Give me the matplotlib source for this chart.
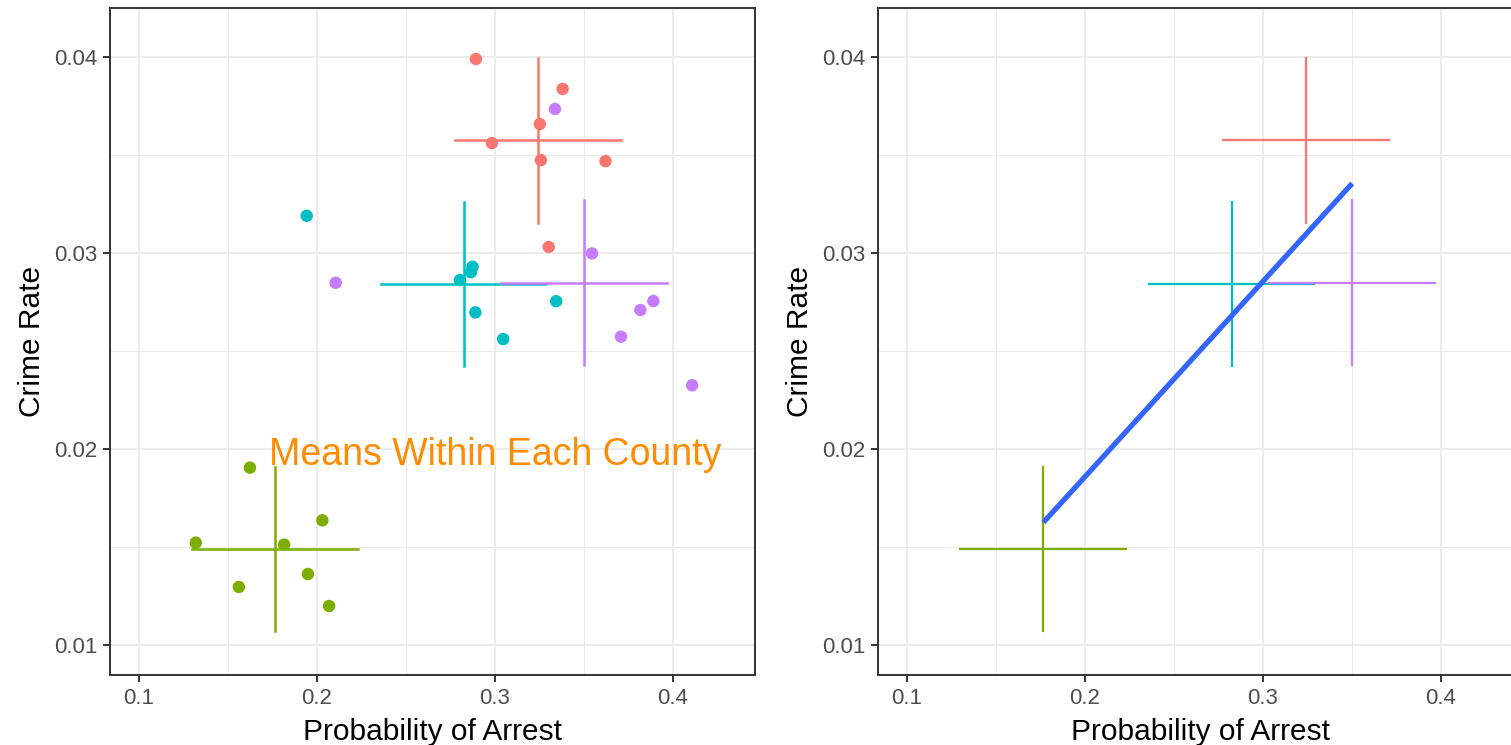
import matplotlib
matplotlib.use('Agg')
import matplotlib.pyplot as plt
import numpy as np

plt.rcParams['font.family'] = ['Liberation Sans', 'DejaVu Sans']

# probability of arrest / crime rate, seven years per county
county_colors = ['#F8766D', '#7CAE00', '#00BFC4', '#C77CFF']

prbarr_1 = [0.2893, 0.3380, 0.3252, 0.2983, 0.3258, 0.3621, 0.3302]
crmrte_1 = [0.03990, 0.03837, 0.03658, 0.03561, 0.03474, 0.03469, 0.03031]

prbarr_2 = [0.1623, 0.2030, 0.1319, 0.1815, 0.1949, 0.1561, 0.2068]
crmrte_2 = [0.01905, 0.01636, 0.01522, 0.01512, 0.01362, 0.01296, 0.01199]

prbarr_3 = [0.1942, 0.2874, 0.2865, 0.2803, 0.3344, 0.2890, 0.3046]
crmrte_3 = [0.03190, 0.02930, 0.02902, 0.02862, 0.02754, 0.02697, 0.02561]

prbarr_4 = [0.3337, 0.3545, 0.2105, 0.3890, 0.3817, 0.3708, 0.4108]
crmrte_4 = [0.03735, 0.02998, 0.02848, 0.02755, 0.02709, 0.02573, 0.02325]

xs = [prbarr_1, prbarr_2, prbarr_3, prbarr_4]
ys = [crmrte_1, crmrte_2, crmrte_3, crmrte_4]

# half lengths of the crosshair arms
arm_x = 0.0466
arm_y = 0.0042

x_ticks = [0.1, 0.2, 0.3, 0.4]
x_labels = ['0.1', '0.2', '0.3', '0.4']
y_ticks = [0.01, 0.02, 0.03, 0.04]
y_labels = ['0.01', '0.02', '0.03', '0.04']

mean_x = np.array([np.mean(v) for v in xs])
mean_y = np.array([np.mean(v) for v in ys])

W, H = 1511, 745
fig = plt.figure(figsize=(W / 100, H / 100), dpi=100)


def add_panel(x0, x1, y0, y1):
    return fig.add_axes([x0 / W, 1 - y1 / H, (x1 - x0) / W, (y1 - y0) / H])


def style(ax):
    ax.set_xlim(0.0837, 0.4461)
    ax.set_ylim(0.008469, 0.0425)
    ax.set_xticks(x_ticks)
    ax.set_xticklabels(x_labels)
    ax.set_yticks(y_ticks)
    ax.set_yticklabels(y_labels)
    ax.set_xticks([0.15, 0.25, 0.35], minor=True)
    ax.set_yticks([0.015, 0.025, 0.035], minor=True)
    ax.grid(True, which='major', color='#EBEBEB', lw=1.3)
    ax.grid(True, which='minor', color='#EBEBEB', lw=0.7)
    ax.set_axisbelow(True)
    for s in ax.spines.values():
        s.set_color('#333333')
        s.set_linewidth(1.4)
    ax.tick_params(which='major', length=5, width=1.4, color='#333333',
                   labelsize=16, labelcolor='#4D4D4D', pad=4)
    ax.tick_params(which='minor', length=0)
    ax.set_xlabel('Probability of Arrest', fontsize=21.5, color='black')
    ax.set_ylabel('Crime Rate', fontsize=21.5, color='black')
    ax.xaxis.set_label_coords(0.5, -0.064)
    ax.yaxis.set_label_coords(-0.1, 0.5)


def crosshairs(ax, lw):
    for mx, my, c in zip(mean_x, mean_y, county_colors):
        ax.plot([mx - arm_x, mx + arm_x], [my, my], color=c, lw=lw, zorder=2)
        ax.plot([mx, mx], [my - arm_y, my + arm_y], color=c, lw=lw, zorder=2)


# left: raw points with county means
ax1 = add_panel(110, 755, 8, 675)
style(ax1)
for x, y, c in zip(xs, ys, county_colors):
    ax1.scatter(x, y, s=80, color=c, edgecolors='none', zorder=3)
crosshairs(ax1, 1.8)
ax1.text(0.3, 0.0197, 'Means Within Each County', color='#FF8C00',
         fontsize=27, ha='center', va='center', zorder=4)

# right: means only, with the between-county fit
ax2 = add_panel(878, 1523, 8, 675)
style(ax2)
crosshairs(ax2, 1.6)
slope, icpt = np.polyfit(mean_x, mean_y, 1)
fit_x = np.array([mean_x.min(), mean_x.max()])
ax2.plot(fit_x, icpt + slope * fit_x, color='#3366FF', lw=3.8,
         solid_capstyle='butt', zorder=3)

fig.savefig('out.png', dpi=100)
